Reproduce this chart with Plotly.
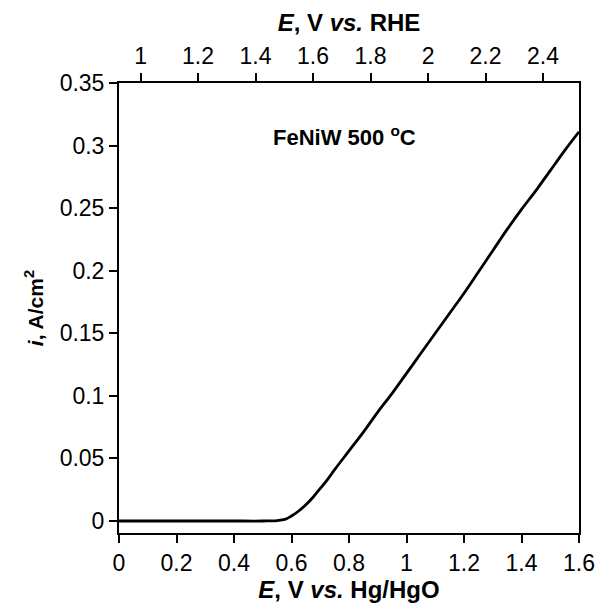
import plotly.graph_objects as go

# Polarization curve, FeNiW annealed at 500 °C
potential_hg = [0.0, 0.10, 0.20, 0.30, 0.40, 0.50, 0.55, 0.58, 0.60, 0.625, 0.65, 0.675,
                0.70, 0.725, 0.75, 0.80, 0.85, 0.90, 0.95, 1.00, 1.05, 1.10, 1.15,
                1.20, 1.25, 1.30, 1.35, 1.40, 1.45, 1.50, 1.55, 1.60]
current = [0.0, 0.0, 0.0, 0.0, 0.0, 0.0, 0.0003, 0.0015, 0.004, 0.008, 0.013, 0.019,
           0.026, 0.033, 0.041, 0.056, 0.071, 0.087, 0.102, 0.118, 0.134, 0.150, 0.166,
           0.182, 0.199, 0.216, 0.233, 0.249, 0.264, 0.280, 0.296, 0.311]

RHE_OFFSET = 0.925  # E(RHE) = E(Hg/HgO) + offset

x_ticks = [0, 0.2, 0.4, 0.6, 0.8, 1.0, 1.2, 1.4, 1.6]
x_ticktext = ["0", "0.2", "0.4", "0.6", "0.8", "1", "1.2", "1.4", "1.6"]
top_ticks = [1.0, 1.2, 1.4, 1.6, 1.8, 2.0, 2.2, 2.4]
top_ticktext = ["1", "1.2", "1.4", "1.6", "1.8", "2", "2.2", "2.4"]
y_ticks = [0, 0.05, 0.1, 0.15, 0.2, 0.25, 0.3, 0.35]
y_ticktext = ["0", "0.05", "0.1", "0.15", "0.2", "0.25", "0.3", "0.35"]

FONT = "Liberation Sans, Arial, Helvetica, sans-serif"

fig = go.Figure()
fig.add_trace(go.Scatter(x=potential_hg, y=current, mode="lines",
                         line=dict(color="black", width=2.8), showlegend=False,
                         line_shape="spline"))
# invisible copy carried on the RHE axis so the top scale is drawn
fig.add_trace(go.Scatter(x=[v + RHE_OFFSET for v in potential_hg], y=current,
                         xaxis="x2", mode="lines", line=dict(width=0),
                         opacity=0, showlegend=False, hoverinfo="skip"))

axis_common = dict(showline=True, linecolor="black", linewidth=2, ticks="outside",
                   ticklen=8, tickwidth=2, tickcolor="black", showgrid=False,
                   zeroline=False, automargin=False,
                   tickfont=dict(family=FONT, size=23, color="black"))

fig.update_layout(
    width=598, height=603,
    margin=dict(l=119, r=19, t=83, b=70),
    paper_bgcolor="white", plot_bgcolor="white",
    font=dict(family=FONT, color="black"),
    xaxis=dict(range=[0, 1.6], tickvals=x_ticks, ticktext=x_ticktext,
               title=dict(text="<b><i>E</i>, V <i>vs.</i> Hg/HgO</b>",
                          font=dict(size=24), standoff=4),
               **axis_common),
    xaxis2=dict(range=[RHE_OFFSET, 1.6 + RHE_OFFSET], overlaying="x", side="top",
                tickvals=top_ticks, ticktext=top_ticktext,
                title=dict(text="<b><i>E</i>, V <i>vs.</i> RHE</b>",
                           font=dict(size=24), standoff=4),
                **axis_common),
    yaxis=dict(range=[-0.0096, 0.35], tickvals=y_ticks, ticktext=y_ticktext,
               mirror=True,
               title=dict(text="<b><i>i</i>, A/cm<sup>2</sup></b>",
                          font=dict(size=21), standoff=10),
               **axis_common),
    annotations=[dict(x=0.786, y=0.308, xref="x", yref="y", showarrow=False,
                      text="<b>FeNiW 500 <sup>o</sup>C</b>",
                      font=dict(family=FONT, size=22, color="black"))],
)

fig.write_html("out.html")
